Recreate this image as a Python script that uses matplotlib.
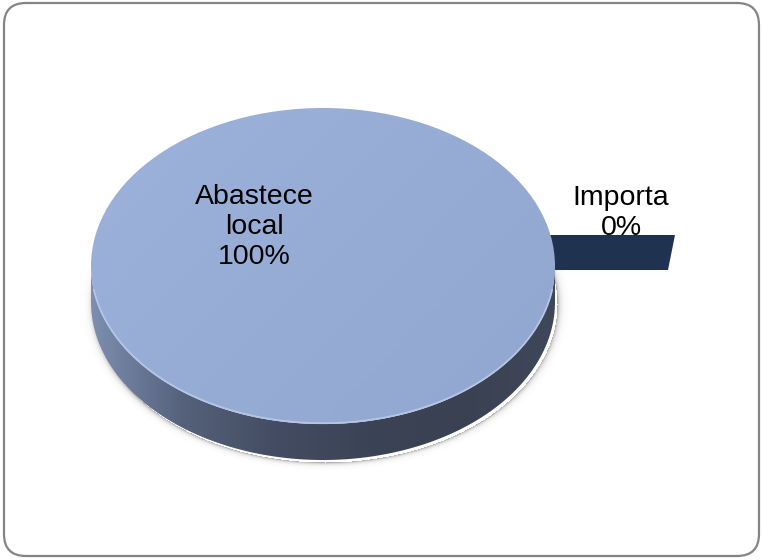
import numpy as np
import matplotlib
matplotlib.use('Agg')
import matplotlib.pyplot as plt
from matplotlib.patches import Ellipse, Polygon, FancyBboxPatch
from matplotlib.colors import LinearSegmentedColormap

# %%
labels = ['Abastece\nlocal', 'Importa']
values = [100, 0]
colors_top = ['#97acd5', '#1f3250']

plt.rcParams['font.family'] = ['Liberation Sans', 'DejaVu Sans']

W, H = 763, 560
fig = plt.figure(figsize=(W / 100, H / 100), dpi=100)
ax = fig.add_axes([0, 0, 1, 1])
ax.set_xlim(0, W)
ax.set_ylim(H, 0)
ax.axis('off')

# pie geometry in pixel space (screen y grows downward)
cx, cy, rx, ry, depth = 323, 266, 232, 158, 36

# rounded chart-area frame
frame = FancyBboxPatch((4, 3), W - 8, H - 7, boxstyle='round,pad=0,rounding_size=22',
                       fc='white', ec='#858585', lw=1.6, zorder=0)
ax.add_patch(frame)

# slice angles from the values
total = float(sum(values))
fracs = [v / total for v in values]
starts = np.cumsum([0] + fracs[:-1]) * 360

# thin soft shadow just outside the lower rim
yy, xx = np.mgrid[0:H, 0:W]
d = np.sqrt(((xx - cx - 2) / rx) ** 2 + ((yy - cy - depth - 2) / ry) ** 2)
dist = (d - 1) * ry
shadow = np.where((dist > 0) & (yy > cy), 0.45 * np.exp(-dist / 1.8), 0)
sh = np.zeros((H, W, 4))
sh[..., :3] = 0.3
sh[..., 3] = shadow
ax.imshow(sh, extent=(0, W, H, 0), zorder=0.8, interpolation='bilinear')

# zero-width slice: only its side wall shows, pulled out to the right
ang = np.deg2rad(starts[1])
explode = (120, -31)
x0, y0 = cx + explode[0], cy + explode[1]
x1, y1 = x0 + rx * np.cos(ang), y0 - ry * np.sin(ang)
wall = Polygon([(x0, y0), (x1, y1), (x1 - 7, y1 + depth - 1), (x0, y0 + depth - 1)],
               closed=True, fc=colors_top[1], ec='none', zorder=1)
ax.add_patch(wall)

# front side wall of the big slice
t = np.linspace(0, np.pi, 200)
ex = cx + rx * np.cos(t)
ey = cy + ry * np.sin(t)
side_pts = np.column_stack([np.r_[ex, ex[::-1]], np.r_[ey, ey[::-1] + depth]])
side = Polygon(side_pts, closed=True, fc='none', ec='none', zorder=2)
ax.add_patch(side)
side_cmap = LinearSegmentedColormap.from_list(
    'side', ['#3f485a', '#394152', '#3b4356', '#434c62', '#55617a', '#7d8eb0'])
grad = np.linspace(0, 1, 256).reshape(1, -1)
im = ax.imshow(grad, cmap=side_cmap, extent=(cx + rx, cx - rx, cy + ry + depth, cy),
               aspect='auto', zorder=2)
im.set_clip_path(side)

# top face
top = Ellipse((cx, cy), 2 * rx, 2 * ry, fc='none', ec='none', zorder=3)
ax.add_patch(top)
top_cmap = LinearSegmentedColormap.from_list('top', ['#9db2da', '#97acd5', '#92a7cf'])
g2 = np.add.outer(np.linspace(0, 0.4, 128), np.linspace(0, 0.6, 256))
im2 = ax.imshow(g2, cmap=top_cmap, extent=(cx - rx, cx + rx, cy + ry, cy - ry),
                aspect='auto', zorder=3)
im2.set_clip_path(top)

# light rim along the front edge
ax.plot(ex[10:190], ey[10:190] - 0.8, color='#b5c5e6', lw=1.3, zorder=4)

# labels
ax.text(254, 227, f'{labels[0]}\n{values[0]}%', ha='center', va='center',
        fontsize=20.5, color='black', linespacing=1.2, zorder=5)
ax.text(621, 213, f'{labels[1]}\n{values[1]}%', ha='center', va='center',
        fontsize=20.5, color='black', linespacing=1.2, zorder=0.5)

fig.savefig('out.png', dpi=100)
